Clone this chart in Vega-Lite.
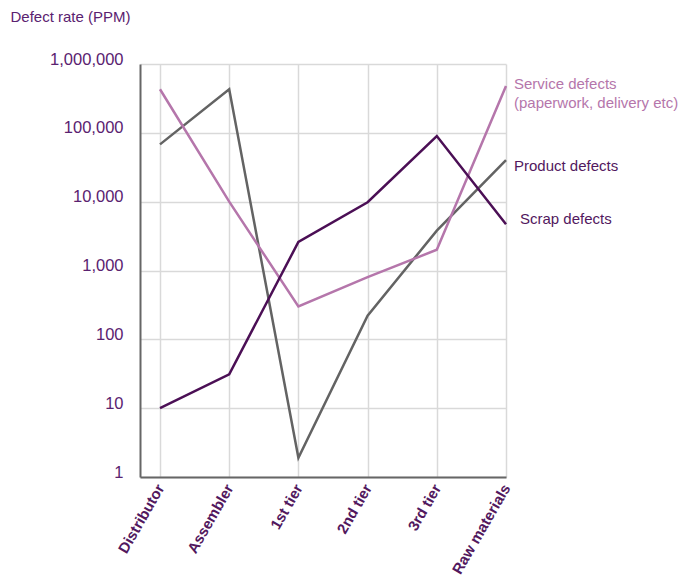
{
  "$schema": "https://vega.github.io/schema/vega-lite/v6.json",
  "width": 366,
  "height": 413,
  "autosize": {"type": "none"},
  "padding": {"left": 140, "top": 64, "right": 181, "bottom": 99},
  "background": "white",
  "config": {
    "view": {"stroke": null},
    "font": "Liberation Sans"
  },
  "datasets": {
    "defects": [
      {"stage": "Distributor", "series": "Product", "ppm": 68000},
      {"stage": "Assembler", "series": "Product", "ppm": 430000},
      {"stage": "1st tier", "series": "Product", "ppm": 1.9},
      {"stage": "2nd tier", "series": "Product", "ppm": 220},
      {"stage": "3rd tier", "series": "Product", "ppm": 3800},
      {"stage": "Raw materials", "series": "Product", "ppm": 40000},
      {"stage": "Distributor", "series": "Service", "ppm": 430000},
      {"stage": "Assembler", "series": "Service", "ppm": 10000},
      {"stage": "1st tier", "series": "Service", "ppm": 300},
      {"stage": "2nd tier", "series": "Service", "ppm": 800},
      {"stage": "3rd tier", "series": "Service", "ppm": 2000},
      {"stage": "Raw materials", "series": "Service", "ppm": 480000},
      {"stage": "Distributor", "series": "Scrap", "ppm": 10},
      {"stage": "Assembler", "series": "Scrap", "ppm": 31},
      {"stage": "1st tier", "series": "Scrap", "ppm": 2600},
      {"stage": "2nd tier", "series": "Scrap", "ppm": 9800},
      {"stage": "3rd tier", "series": "Scrap", "ppm": 90000},
      {"stage": "Raw materials", "series": "Scrap", "ppm": 4700}
    ]
  },
  "layer": [
    {
      "data": {"name": "defects"},
      "mark": {"type": "line", "strokeWidth": 2.5, "strokeJoin": "miter"},
      "encoding": {
        "x": {
          "field": "stage",
          "type": "ordinal",
          "sort": ["Distributor", "Assembler", "1st tier", "2nd tier", "3rd tier", "Raw materials"],
          "scale": {"type": "point", "padding": 0.1445, "align": 1},
          "axis": {
            "title": null,
            "grid": true,
            "gridColor": "#d9d9d9",
            "gridWidth": 1.5,
            "domainColor": "#666666",
            "domainWidth": 2,
            "ticks": false,
            "labelAngle": -60,
            "labelAlign": "right",
            "labelBaseline": "middle",
            "labelPadding": 8,
            "labelFontSize": 15,
            "labelFontWeight": "bold",
            "labelColor": "#52185e"
          }
        },
        "y": {
          "field": "ppm",
          "type": "quantitative",
          "scale": {"type": "log", "domain": [1, 1000000], "nice": false},
          "axis": {
            "values": [1, 10, 100, 1000, 10000, 100000, 1000000],
            "format": ",",
            "grid": true,
            "gridColor": "#d9d9d9",
            "gridWidth": 1.5,
            "domainColor": "#666666",
            "domainWidth": 2,
            "ticks": false,
            "labelPadding": 17,
            "labelFontSize": 16.5,
            "labelColor": "#5a2270",
            "labelBaseline": "alphabetic",
            "title": "Defect rate (PPM)",
            "titleAngle": 0,
            "titleAlign": "left",
            "titleBaseline": "alphabetic",
            "titleX": -130,
            "titleY": -43,
            "titleFontSize": 15,
            "titleFontWeight": "normal",
            "titleColor": "#5a2270"
          }
        },
        "color": {
          "field": "series",
          "type": "nominal",
          "scale": {"domain": ["Product", "Service", "Scrap"], "range": ["#636363", "#b576ab", "#4b0f55"]},
          "legend": null
        },
        "order": {"field": "series"}
      }
    },
    {
      "data": {"values": [
        {"stage": "Raw materials", "ppm": 480000, "text": ["Service defects", "(paperwork, delivery etc)"]}
      ]},
      "mark": {"type": "text", "align": "left", "baseline": "alphabetic", "dx": 8, "dy": 3, "fontSize": 15, "lineHeight": 19, "color": "#b576ab"},
      "encoding": {
        "x": {"field": "stage", "type": "ordinal", "sort": ["Distributor", "Assembler", "1st tier", "2nd tier", "3rd tier", "Raw materials"]},
        "y": {"field": "ppm", "type": "quantitative"},
        "text": {"field": "text"}
      }
    },
    {
      "data": {"values": [
        {"stage": "Raw materials", "ppm": 40000, "text": "Product defects"}
      ]},
      "mark": {"type": "text", "align": "left", "baseline": "middle", "dx": 8, "dy": 6, "fontSize": 15, "color": "#52185e"},
      "encoding": {
        "x": {"field": "stage", "type": "ordinal", "sort": ["Distributor", "Assembler", "1st tier", "2nd tier", "3rd tier", "Raw materials"]},
        "y": {"field": "ppm", "type": "quantitative"},
        "text": {"field": "text"}
      }
    },
    {
      "data": {"values": [
        {"stage": "Raw materials", "ppm": 4700, "text": "Scrap defects"}
      ]},
      "mark": {"type": "text", "align": "left", "baseline": "middle", "dx": 14, "dy": -5, "fontSize": 15, "color": "#52185e"},
      "encoding": {
        "x": {"field": "stage", "type": "ordinal", "sort": ["Distributor", "Assembler", "1st tier", "2nd tier", "3rd tier", "Raw materials"]},
        "y": {"field": "ppm", "type": "quantitative"},
        "text": {"field": "text"}
      }
    }
  ]
}
